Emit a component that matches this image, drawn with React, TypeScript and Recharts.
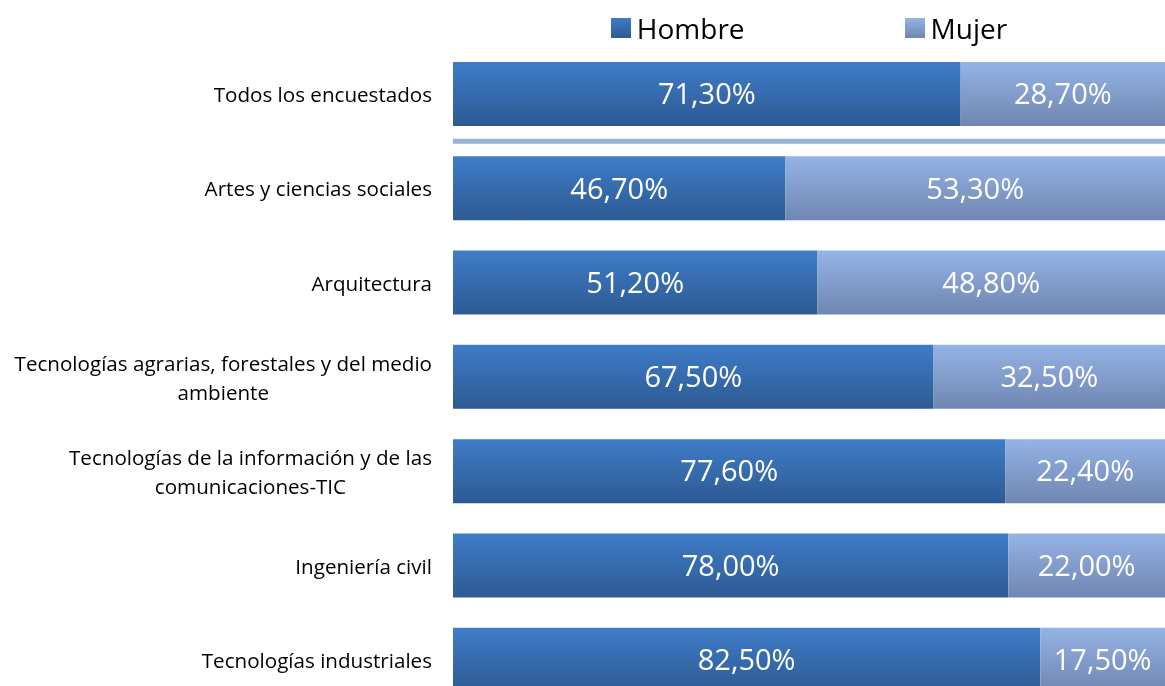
import { BarChart, Bar, XAxis, YAxis, LabelList, Legend, ReferenceLine } from 'recharts'

const categories = [
  'Todos los encuestados',
  'Artes y ciencias sociales',
  'Arquitectura',
  'Tecnologías agrarias, forestales y del medio\nambiente',
  'Tecnologías de la información y de las\ncomunicaciones-TIC',
  'Ingeniería civil',
  'Tecnologías industriales',
]
const hombre = [71.3, 46.7, 51.2, 67.5, 77.6, 78.0, 82.5]
const mujer = [28.7, 53.3, 48.8, 32.5, 22.4, 22.0, 17.5]

const data = categories.map((name, i) => ({ name, hombre: hombre[i], mujer: mujer[i] }))

const FONT = "'Open Sans', 'Noto Sans', sans-serif"
const TICK_SIZE = 20.6
const LINE_H = 29

let ctx: CanvasRenderingContext2D | null = null
function textWidth(t: string) {
  if (!ctx) ctx = document.createElement('canvas').getContext('2d')
  if (!ctx) return t.length * 10
  ctx.font = `${TICK_SIZE}px ${FONT}`
  return ctx.measureText(t).width
}

function CategoryTick({ x, y, payload }: any) {
  const lines: string[] = String(payload.value).split('\n')
  const right = x - 21
  if (lines.length === 1) {
    return (
      <text x={right} y={y} textAnchor="end" dominantBaseline="central" fontSize={TICK_SIZE} fill="#000" fontFamily={FONT}>
        {lines[0]}
      </text>
    )
  }
  const w = Math.max(...lines.map(textWidth))
  const cx = right - w / 2
  return (
    <g>
      {lines.map((l, i) => (
        <text key={i} x={cx} y={y + (i - (lines.length - 1) / 2) * LINE_H} textAnchor="middle"
          dominantBaseline="central" fontSize={TICK_SIZE} fill="#000" fontFamily={FONT}>
          {l}
        </text>
      ))}
    </g>
  )
}

const fmt = (v: any) => `${Number(v).toFixed(2).replace('.', ',')}%`

const legendItems = [
  { label: 'Hombre', bg: 'linear-gradient(#3f7cc8, #2d5a93)' },
  { label: 'Mujer', bg: 'linear-gradient(#95b3e6, #6f86b1)' },
]

function ChartLegend() {
  return (
    <div style={{ display: 'flex', justifyContent: 'center', gap: 160, fontFamily: FONT, fontSize: 28, lineHeight: '36px' }}>
      {legendItems.map((it) => (
        <div key={it.label} style={{ display: 'flex', alignItems: 'center', gap: 6 }}>
          <div style={{ width: 20, height: 20, background: it.bg }} />
          <span style={{ color: '#000' }}>{it.label}</span>
        </div>
      ))}
    </div>
  )
}

export default function App() {
  return (
    <div style={{ position: 'fixed', top: 8, left: 8, width: 1157, height: 678, overflow: 'hidden' }}>
      <BarChart
        width={1157}
        height={700}
        data={data}
        layout="vertical"
        barSize={64}
        margin={{ top: 39, right: 0, bottom: 1, left: 0 }}
      >
        <defs>
          <linearGradient id="gHombre" x1="0" y1="0" x2="0" y2="1">
            <stop offset="0%" stopColor="#3f7cc8" />
            <stop offset="100%" stopColor="#2d5a93" />
          </linearGradient>
          <linearGradient id="gMujer" x1="0" y1="0" x2="0" y2="1">
            <stop offset="0%" stopColor="#95b3e6" />
            <stop offset="100%" stopColor="#6f86b1" />
          </linearGradient>
        </defs>
        <XAxis type="number" domain={[0, 100]} hide />
        <YAxis
          type="category"
          dataKey="name"
          width={445}
          axisLine={false}
          tickLine={false}
          tickSize={0}
          tickMargin={0}
          interval={0}
          tick={<CategoryTick />}
        />
        <Legend
          layout="horizontal"
          verticalAlign="middle"
          align="center"
          wrapperStyle={{ top: 2, left: 445, width: 712 }}
          content={<ChartLegend />}
        />
        <ReferenceLine y={categories[0]} position="end" stroke="#95b3d7" strokeWidth={5} />
        <Bar dataKey="hombre" name="Hombre" stackId="a" fill="url(#gHombre)" isAnimationActive={false}>
          <LabelList dataKey="hombre" position="center" fill="#fff" fontSize={29} fontFamily={FONT} formatter={fmt} />
        </Bar>
        <Bar dataKey="mujer" name="Mujer" stackId="a" fill="url(#gMujer)" isAnimationActive={false}>
          <LabelList dataKey="mujer" position="center" fill="#fff" fontSize={29} fontFamily={FONT} formatter={fmt} />
        </Bar>
      </BarChart>
    </div>
  )
}
